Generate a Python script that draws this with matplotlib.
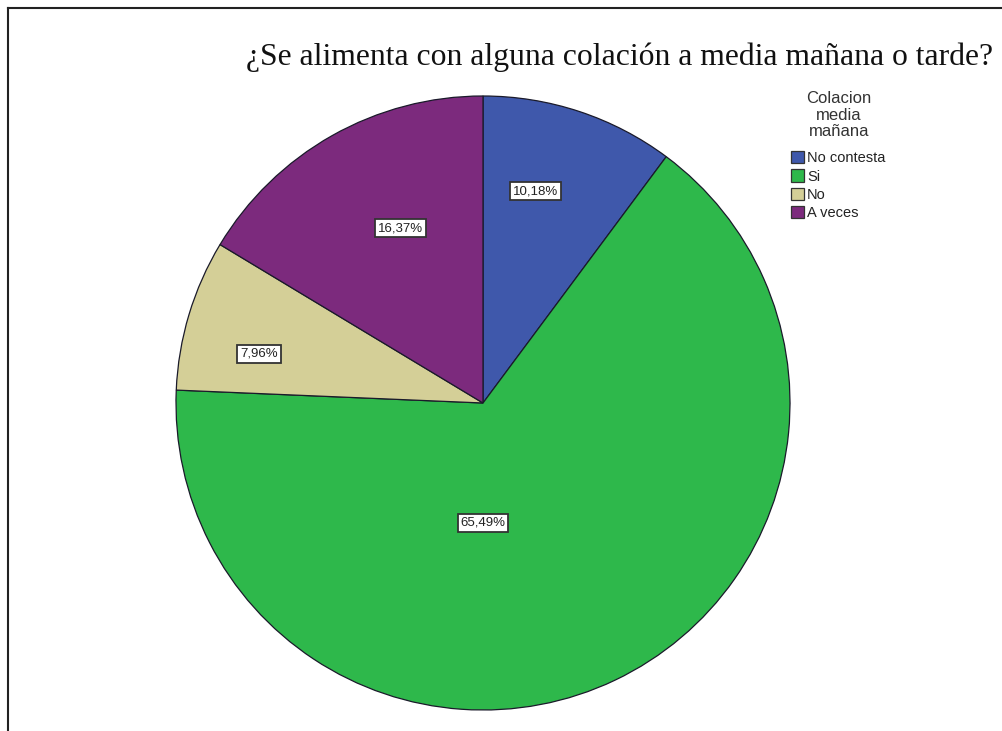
import matplotlib.pyplot as plt
from matplotlib.patches import Patch
from matplotlib.lines import Line2D

categorias = ['No contesta', 'Si', 'No', 'A veces']
porcentajes = [10.18, 65.49, 7.96, 16.37]
colores = ['#3F58AB', '#2EB84B', '#D4CF97', '#7C2A7D']
# posicion de cada etiqueta en unidades del radio
pos_etiquetas = [(0.17, 0.69), (0.0, -0.39), (-0.73, 0.16), (-0.27, 0.57)]

W, H = 1003, 731
fig = plt.figure(figsize=(W / 100, H / 100), dpi=100)
fig.patch.set_facecolor('white')

cx, cy, r = 483, 403, 307
ax = fig.add_axes([(cx - r) / W, (H - cy - r) / H, 2 * r / W, 2 * r / H])
ax.pie(porcentajes, colors=colores, startangle=90, counterclock=False,
       radius=1, wedgeprops=dict(edgecolor='#1a1a2a', linewidth=0.9))
ax.set_xlim(-1, 1)
ax.set_ylim(-1, 1)
ax.set_aspect('equal')
ax.axis('off')

for p, (x, y) in zip(porcentajes, pos_etiquetas):
    txt = f'{p:.2f}%'.replace('.', ',')
    ax.text(x, y, txt, ha='center', va='center', fontsize=9.5,
            family='Liberation Sans', color='#222222',
            bbox=dict(boxstyle='square,pad=0.22', facecolor='white',
                      edgecolor='#333333', linewidth=1.3))

fig.text(993 / W, 1 - 57 / H, '¿Se alimenta con alguna colación a media mañana o tarde?',
         ha='right', va='center', fontsize=22.8, family='Liberation Serif', color='#111111')

# titulo de la leyenda aparte, centrado sobre los elementos
fig.text(839 / W, 1 - 115 / H, 'Colacion\nmedia\nmañana', ha='center', va='center',
         multialignment='center', linespacing=1.15, fontsize=12,
         family='Liberation Sans', color='#333333')

handles = [Patch(facecolor=c, edgecolor='#333333', linewidth=0.9) for c in colores]
leg = fig.legend(handles, categorias,
                 loc='upper left', bbox_to_anchor=(791 / W, 1 - 151 / H),
                 frameon=False, prop={'family': 'Liberation Sans', 'size': 10.5},
                 handlelength=0.9, handleheight=0.9, handletextpad=0.2,
                 labelspacing=0.3, borderpad=0, borderaxespad=0)
for t in leg.get_texts():
    t.set_color('#222222')

# marco superior e izquierdo
fig.add_artist(Line2D([8 / W, 1002 / W], [1 - 8 / H, 1 - 8 / H], color='#222222', linewidth=1.5))
fig.add_artist(Line2D([8 / W, 8 / W], [0, 1 - 8 / H], color='#222222', linewidth=1.5))

fig.savefig('out.png', dpi=100)
